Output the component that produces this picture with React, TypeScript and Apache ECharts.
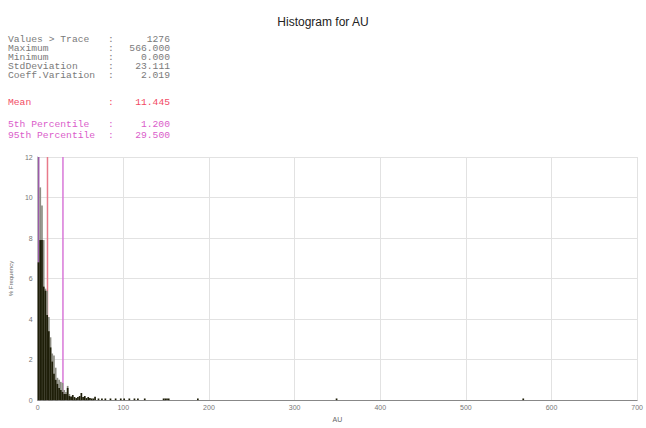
import React, { useEffect, useRef } from "react";
import * as echarts from "echarts";

// ---- data ----
const binWidth = 2;
const binStarts = [0, 2, 4, 6, 8, 10, 12, 14, 16, 18, 20, 22, 24, 26, 28, 30, 32, 34, 36, 38];
const lightHeights = [6.8, 10.5, 9.6, 7.9, 5.5, 5.4, 4.1, 3.1, 2.3, 2.2, 1.6, 1.1, 1.0, 0.9, 0.85, 0.5, 0.4, 0.7, 0.3, 0.2];
const darkHeights = [6.8, 7.9, 7.9, 5.6, 5.4, 4.2, 3.4, 2.6, 1.9, 1.3, 1.0, 0.8, 0.6, 0.5, 0.4, 0.3, 0.3, 0.6, 0.2, 0.15];
const tailStarts = [40, 42, 44, 46, 48, 50, 52, 54, 56, 58, 60, 62, 64, 66, 70, 74, 78, 84, 90, 96, 100, 106, 112, 116, 124, 146, 148, 150, 152, 186, 348, 566];
const tailHeights = [0.25, 0.15, 0.1, 0.15, 0.2, 0.35, 0.15, 0.2, 0.1, 0.15, 0.1, 0.08, 0.08, 0.16, 0.08, 0.08, 0.08, 0.08, 0.08, 0.08, 0.08, 0.08, 0.08, 0.08, 0.08, 0.08, 0.08, 0.08, 0.08, 0.08, 0.08, 0.08];

const statLabels = ["Values > Trace", "Maximum", "Minimum", "StdDeviation", "Coeff.Variation"];
const statValues = ["1276", "566.000", "0.000", "23.111", "2.019"];
const meanLabel = "Mean";
const meanValue = 11.445;
const pctLabels = ["5th Percentile", "95th Percentile"];
const pctValues = [1.2, 29.5];

const xTicks = { min: 0, max: 700, interval: 100 };
const yTicks = { min: 0, max: 12, interval: 2 };

const titleText = "Histogram for AU";
const xName = "AU";
const yName = "% Frequency";

export default function App() {
  const ref = useRef<HTMLDivElement>(null);
  useEffect(() => {
    if (!ref.current) return;
    const chart = echarts.init(ref.current, undefined, { renderer: "svg" });

    const lightData = binStarts.map((s, i) => [s, s + binWidth, lightHeights[i]]);
    const darkData = binStarts
      .map((s, i) => [s, s + binWidth, darkHeights[i]])
      .concat(tailStarts.map((s, i) => [s, s + binWidth, tailHeights[i]]));

    const renderBin = (color: string) => (params: any, api: any) => {
      const p0 = api.coord([api.value(0), api.value(2)]);
      const p1 = api.coord([api.value(1), 0]);
      return {
        type: "rect",
        shape: { x: p0[0], y: p0[1], width: Math.max(p1[0] - p0[0], 1), height: p1[1] - p0[1] },
        style: { fill: color },
      };
    };

    const renderRefLine = (color: string) => (params: any, api: any) => {
      const x = api.value(0);
      const a = api.coord([x, yTicks.min]);
      const b = api.coord([x, yTicks.max]);
      return {
        type: "rect",
        shape: { x: a[0] - 0.75, y: b[1], width: 1.5, height: a[1] - b[1] },
        style: { fill: color },
      };
    };
    const refLineSeries = (v: number, color: string) => ({
      type: "custom",
      renderItem: renderRefLine(color),
      data: [[v]],
      encode: { x: 0 },
      z: 1,
    });

    const mono = "'Liberation Mono', 'DejaVu Sans Mono', monospace";
    const font = `8.8px ${mono}`;
    const txt = (x: number, y: number, text: string, fill: string, align: string) => ({
      type: "text",
      x,
      y,
      scaleX: 1.1,
      style: { text, font, fill, align, verticalAlign: "middle" },
    });
    const graphics: any[] = [];
    const lineY = [40, 49, 58, 67, 76];
    const grey = "#7a7a7a";
    statLabels.forEach((l, i) => {
      graphics.push(txt(8, lineY[i], l, grey, "left"));
      graphics.push(txt(108, lineY[i], ":", grey, "left"));
      graphics.push(txt(170, lineY[i], statValues[i], grey, "right"));
    });
    const red = "#f24a64";
    const meanY = 103;
    graphics.push(txt(8, meanY, meanLabel, red, "left"));
    graphics.push(txt(108, meanY, ":", red, "left"));
    graphics.push(txt(170, meanY, meanValue.toFixed(3), red, "right"));
    const pink = "#da5cca";
    const pctY = [125, 136];
    pctLabels.forEach((l, i) => {
      graphics.push(txt(8, pctY[i], l, pink, "left"));
      graphics.push(txt(108, pctY[i], ":", pink, "left"));
      graphics.push(txt(170, pctY[i], pctValues[i].toFixed(3), pink, "right"));
    });

    chart.setOption({
      animation: false,
      backgroundColor: "#fff",
      title: {
        text: titleText,
        left: "center",
        top: 11,
        textStyle: { fontFamily: "Liberation Sans, Arial, sans-serif", fontSize: 12, fontWeight: "normal", color: "#222" },
      },
      grid: { left: 37, right: 6, top: 157, bottom: 22 },
      xAxis: {
        type: "value",
        min: xTicks.min,
        max: xTicks.max,
        interval: xTicks.interval,
        name: xName,
        nameLocation: "middle",
        nameGap: 13,
        nameTextStyle: { fontSize: 7, color: "#666", fontFamily: "Liberation Sans, Arial, sans-serif" },
        axisLine: { lineStyle: { color: "#888" } },
        axisTick: { show: false },
        axisLabel: { fontSize: 7, color: "#777", margin: 4, fontFamily: "Liberation Sans, Arial, sans-serif" },
        splitLine: { lineStyle: { color: "#e2e2e2" } },
      },
      yAxis: {
        type: "value",
        min: yTicks.min,
        max: yTicks.max,
        interval: yTicks.interval,
        name: yName,
        nameLocation: "middle",
        nameGap: 13,
        nameTextStyle: { fontSize: 6, color: "#666", fontFamily: "Liberation Sans, Arial, sans-serif" },
        axisLine: { show: true, lineStyle: { color: "#bbb" } },
        axisTick: { show: false },
        axisLabel: { fontSize: 7, color: "#777", margin: 5, fontFamily: "Liberation Sans, Arial, sans-serif" },
        splitLine: { lineStyle: { color: "#e2e2e2" } },
      },
      graphic: graphics,
      series: [
        refLineSeries(pctValues[0], "#9a5aa8"),
        refLineSeries(meanValue, "#e87a8a"),
        refLineSeries(pctValues[1], "#d878d8"),
        {
          type: "custom",
          renderItem: renderBin("#8e8e84"),
          data: lightData,
          encode: { x: [0, 1], y: 2 },
          z: 2,
        },
        {
          type: "custom",
          renderItem: renderBin("#1e1e08"),
          data: darkData,
          encode: { x: [0, 1], y: 2 },
          z: 3,
        },
      ],
    });
    return () => chart.dispose();
  }, []);
  return <div ref={ref} style={{ width: 646, height: 428, position: "absolute", left: 0, top: 0 }} />;
}
